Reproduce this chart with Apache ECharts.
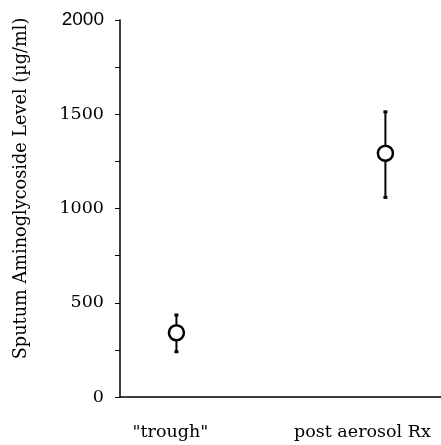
<!DOCTYPE html>
<html>
<head>
<meta charset="utf-8">
<script src="https://cdn.jsdelivr.net/npm/echarts@6/dist/echarts.min.js"></script>
<style>html,body{margin:0;padding:0;background:#fff}#c{width:441px;height:445px}</style>
</head>
<body>
<div id="c"></div>
<script>
var categories = ['"trough"', 'post aerosol Rx'];
var positions = [1, 2];
var means = [341, 1293];
var upper = [435, 1513];
var lower = [240, 1059];
var yTicks = [0, 500, 1000, 1500, 2000];

var chart = echarts.init(document.getElementById('c'), null, {renderer: 'canvas'});
var serif = 'DejaVu Serif';

chart.setOption({
  animation: false,
  backgroundColor: '#fff',
  grid: {left: 120, top: 20, right: 0, bottom: 48, containLabel: false, outerBoundsMode: 'none'},
  xAxis: {
    type: 'value', min: 0.73, max: 2.266,
    axisLine: {show: true, lineStyle: {color: '#000', width: 1.5}},
    axisTick: {show: false},
    splitLine: {show: false},
    axisLabel: {
      customValues: positions,
      margin: 26,
      color: '#000', fontFamily: serif, fontSize: 17.5,
      formatter: function (v) {
        var i = positions.indexOf(v);
        if (i < 0) return '';
        return '{c' + i + '|' + categories[i] + '}';
      },
      rich: {
        c0: {fontFamily: serif, fontSize: 17.5, color: '#000', padding: [0, 12, 0, 0]},
        c1: {fontFamily: serif, fontSize: 17.5, color: '#000', padding: [0, 46, 0, 0]}
      }
    }
  },
  yAxis: {
    type: 'value', min: 0, max: 2000, interval: 250,
    name: 'Sputum Aminoglycoside Level (µg/ml)',
    nameLocation: 'middle', nameGap: 90,
    nameTextStyle: {color: '#000', fontFamily: serif, fontSize: 17.7, padding: [0, 0, 0, 40]},
    axisLine: {show: true, lineStyle: {color: '#000', width: 1.5}},
    axisTick: {show: true, length: 5, lineStyle: {color: '#000', width: 1}},
    splitLine: {show: false},
    axisLabel: {
      margin: 16, color: '#000', fontFamily: serif, fontSize: 17.5,
      formatter: function (v) {
        if (yTicks.indexOf(v) < 0) return '';
        return v === 2000 ? '{s|' + v + '}' : String(v);
      },
      rich: {s: {fontFamily: 'Liberation Sans', fontSize: 19, color: '#000'}}
    }
  },
  series: [
    {
      type: 'custom',
      data: positions.map(function (p, i) { return [p, lower[i], upper[i]]; }),
      renderItem: function (params, api) {
        var lo = api.coord([api.value(0), api.value(1)]);
        var hi = api.coord([api.value(0), api.value(2)]);
        var cap = 2;
        var st = {stroke: '#000', lineWidth: 2};
        return {type: 'group', children: [
          {type: 'line', shape: {x1: lo[0], y1: lo[1], x2: hi[0], y2: hi[1]}, style: st},
          {type: 'line', shape: {x1: lo[0] - cap, y1: lo[1], x2: lo[0] + cap, y2: lo[1]}, style: {stroke: '#000', lineWidth: 3}},
          {type: 'line', shape: {x1: hi[0] - cap, y1: hi[1], x2: hi[0] + cap, y2: hi[1]}, style: {stroke: '#000', lineWidth: 3}}
        ]};
      },
      z: 2
    },
    {
      type: 'scatter',
      data: positions.map(function (p, i) { return [p, means[i]]; }),
      symbol: 'circle', symbolSize: 15,
      itemStyle: {color: '#fff', borderColor: '#000', borderWidth: 2.5, opacity: 1},
      z: 3
    }
  ]
});
</script>
</body>
</html>
